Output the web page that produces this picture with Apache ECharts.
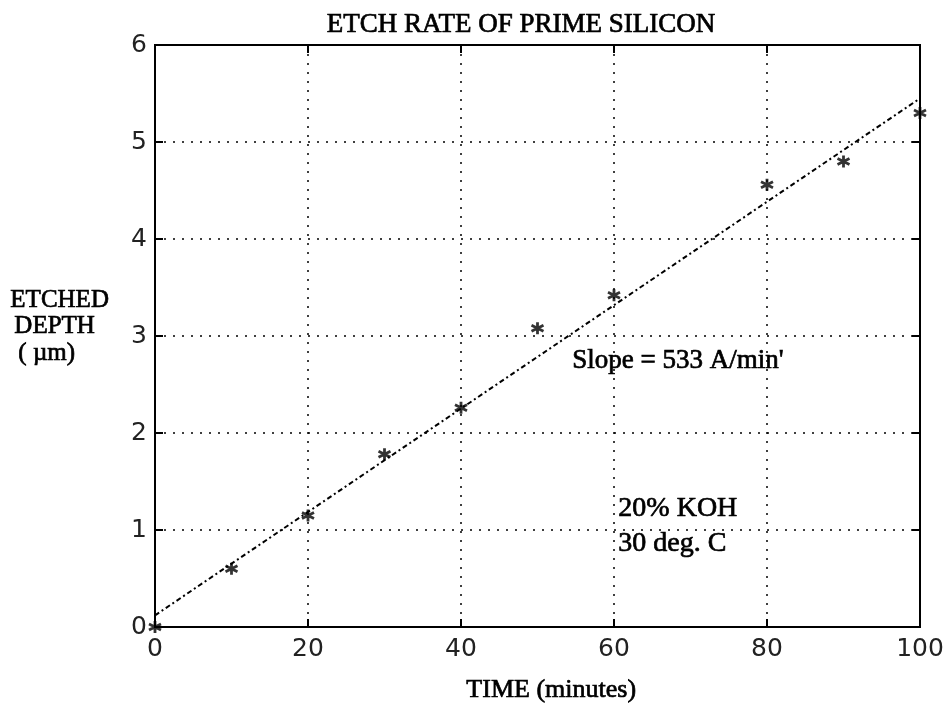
<!DOCTYPE html>
<html><head><meta charset="utf-8">
<script src="https://cdn.jsdelivr.net/npm/echarts@6/dist/echarts.min.js"></script>
<style>html,body{margin:0;padding:0;background:#fff}#c{width:951px;height:703px}</style>
</head><body><div id="c"></div>
<script>
const timeMin = [0, 10, 20, 30, 40, 50, 60, 80, 90, 100];
const depthUm = [0.0, 0.60, 1.15, 1.78, 2.26, 3.08, 3.42, 4.56, 4.80, 5.30];
const fitX = [0, 100];
const fitY = [0.12, 5.45];
const xTicks = [0, 20, 40, 60, 80, 100];
const yTicks = [0, 1, 2, 3, 4, 5, 6];

const chart = echarts.init(document.getElementById('c'));
const serif = '"Liberation Serif", "DejaVu Serif", serif';
const sans = '"DejaVu Sans", sans-serif';
const gridL = 155, gridT = 45, gridR = 31, gridB = 76;
const tick = {show: true, inside: true, length: 8, lineStyle: {color: '#000', width: 2}};
const txt = (left, top, text, size, extra) => ({type: 'text', left, top,
  style: Object.assign({text, font: size + 'px ' + serif, fill: '#000', stroke: '#000', lineWidth: 0.7}, extra || {})});

chart.setOption({
  backgroundColor: '#fff',
  animation: false,
  title: {
    text: 'ETCH RATE OF PRIME SILICON', left: 516, top: 6, textAlign: 'center',
    textStyle: {fontFamily: serif, fontSize: 27, fontWeight: 'normal', color: '#000', textBorderColor: '#000', textBorderWidth: 0.7}
  },
  grid: {left: gridL, right: gridR, top: gridT, bottom: gridB, show: true, borderColor: '#000', borderWidth: 2},
  xAxis: [{
    type: 'value', min: 0, max: 100, interval: 20,
    axisLine: {show: true, onZero: false, lineStyle: {color: '#000', width: 2}},
    axisTick: tick,
    axisLabel: {fontFamily: sans, fontSize: 25, color: '#222', margin: 10,
      formatter: v => xTicks.includes(v) ? String(v) : ''},
    splitLine: {show: true, lineStyle: {color: '#000', type: [2, 7], width: 1.5}}
  }, {
    type: 'value', min: 0, max: 100, interval: 20, position: 'top',
    axisLine: {show: false, onZero: false}, axisLabel: {show: false}, splitLine: {show: false},
    axisTick: tick
  }],
  yAxis: [{
    type: 'value', min: 0, max: 6, interval: 1,
    axisLine: {show: true, onZero: false, lineStyle: {color: '#000', width: 2}},
    axisTick: tick,
    axisLabel: {fontFamily: sans, fontSize: 25, color: '#222', margin: 8,
      formatter: v => yTicks.includes(v) ? String(v) : ''},
    splitLine: {show: true, lineStyle: {color: '#000', type: [2, 7], width: 1.5}}
  }, {
    type: 'value', min: 0, max: 6, interval: 1, position: 'right',
    axisLine: {show: false, onZero: false}, axisLabel: {show: false}, splitLine: {show: false},
    axisTick: tick
  }],
  graphic: [
    txt(10, 288, 'ETCHED', 25),
    txt(14, 314, 'DEPTH', 25),
    txt(18, 341, '( µm)', 25),
    txt(572, 347, "Slope = 533 A/min'", 27),
    txt(618, 491, '20% KOH\n30 deg. C', 28, {lineHeight: 35}),
    txt(466, 677, 'TIME (minutes)', 26)
  ],
  series: [{
    type: 'line', data: fitX.map((x, i) => [x, fitY[i]]), showSymbol: false, symbol: 'none',
    lineStyle: {color: '#000', width: 2, type: [5, 3, 2, 3]}, z: 3
  }, {
    type: 'scatter', data: timeMin.map((x, i) => [x, depthUm[i]]),
    symbol: 'path://M0,-10L0,10M-8.7,-5L8.7,5M-8.7,5L8.7,-5', symbolSize: 12,
    itemStyle: {color: 'none', borderColor: '#000', borderWidth: 2.8}, z: 4
  }]
});
</script></body></html>
